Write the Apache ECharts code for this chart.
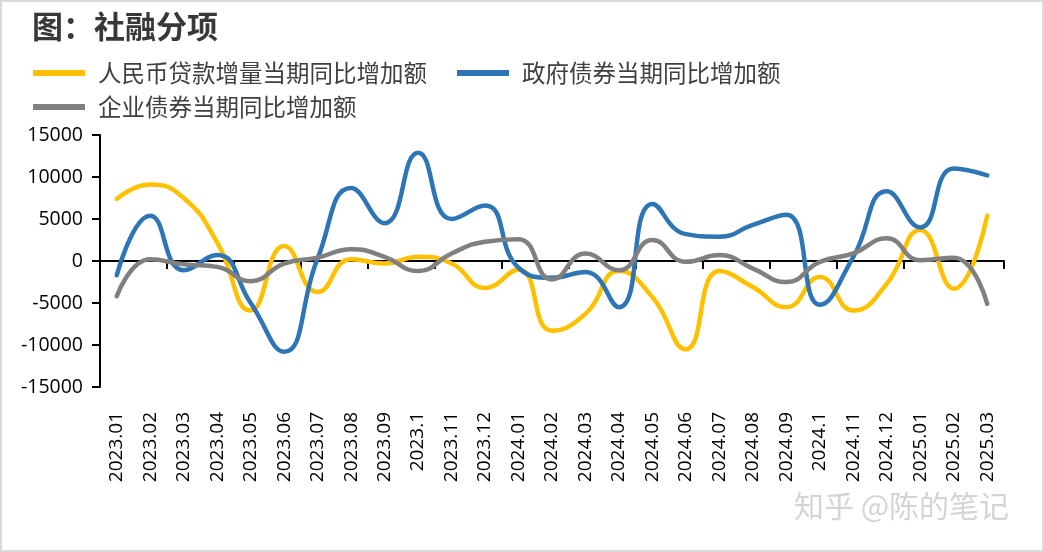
<!DOCTYPE html>
<html>
<head>
<meta charset="utf-8">
<script src="https://cdn.jsdelivr.net/npm/echarts@6/dist/echarts.min.js"></script>
<style>
  html, body { margin: 0; padding: 0; background: #fff; }
  #chart { position: absolute; left: 0; top: 0; width: 1044px; height: 552px; }
  #frame { position: absolute; left: 0; top: 0; width: 1044px; height: 552px;
           box-sizing: border-box; border: 2px solid #d9d9d9; pointer-events: none; }
</style>
</head>
<body>
<div id="chart"></div>
<div id="frame"></div>
<script>
// 月份
const months = ['2023.01','2023.02','2023.03','2023.04','2023.05','2023.06','2023.07','2023.08','2023.09','2023.1',
  '2023.11','2023.12','2024.01','2024.02','2024.03','2024.04','2024.05','2024.06','2024.07','2024.08','2024.09',
  '2024.1','2024.11','2024.12','2025.01','2025.02','2025.03'];
// 人民币贷款增量当期同比增加额
const loans = [7400, 9100, 7500, 2200, -5900, 1800, -3700, 200, -300, 500, -300, -3200, -1000, -8300,
  -6300, -1200, -4300, -10500, -1200, -3100, -5500, -1900, -5900, -2700, 3700, -3300, 5400];
// 政府债券当期同比增加额
const govBonds = [-1700, 5400, -1100, 700, -5000, -10800, 300, 8700, 4500, 12900, 5000, 6600, -800, -2000,
  -1300, -5500, 6800, 3200, 2900, 4300, 5500, -5200, 500, 8300, 4000, 11000, 10200];
// 企业债券当期同比增加额
const corpBonds = [-4200, 200, -400, -700, -2400, -300, 400, 1400, 500, -1200, 900, 2300, 2600, -2200,
  900, -1100, 2500, -100, 700, -900, -2500, -100, 900, 2700, 100, 400, -5100];

const names = ['人民币贷款增量当期同比增加额', '政府债券当期同比增加额', '企业债券当期同比增加额'];
const colors = ['#FFC000', '#2E75B6', '#808080'];

const numFont = '"Open Sans", "Liberation Sans", sans-serif';
const cjkFont = '"Noto Sans CJK SC", sans-serif';

let chart = echarts.init(document.getElementById('chart'));

function legendAt(name, left, top) {
  return {
    data: [{ name: name, icon: 'rect' }],
    left: left, top: top,
    itemWidth: 52, itemHeight: 6,
    textStyle: { fontFamily: cjkFont, fontSize: 23.5, color: '#404040', padding: [0, 0, 0, 8], lineHeight: 28 }
  };
}

let option = {
  backgroundColor: '#fff',
  animation: false,
  title: {
    text: '图：社融分项',
    left: 27, top: 6,
    textStyle: { fontFamily: cjkFont, fontSize: 31, fontWeight: 'bold', color: '#383838' }
  },
  legend: [
    legendAt(names[0], 28, 54),
    legendAt(names[1], 452, 54),
    legendAt(names[2], 28, 88)
  ],
  grid: { left: 100, right: 40, top: 135, bottom: 165 },
  xAxis: [
    {
      type: 'category',
      data: months,
      axisLine: { onZero: true, lineStyle: { color: '#000', width: 2 } },
      axisTick: { show: true, length: 8, lineStyle: { color: '#000', width: 2 } },
      axisLabel: { show: false }
    },
    {
      type: 'category',
      data: months,
      position: 'bottom',
      axisLine: { show: false, onZero: false },
      axisTick: { show: false },
      axisLabel: { rotate: 90, margin: 25, interval: 0, fontFamily: numFont, fontSize: 19, color: '#000' }
    }
  ],
  yAxis: {
    type: 'value',
    min: -15000, max: 15000, interval: 5000,
    splitLine: { show: false },
    axisLine: { show: true, lineStyle: { color: '#000', width: 2 } },
    axisTick: { show: true, length: 8, lineStyle: { color: '#000', width: 2 } },
    axisLabel: { margin: 17, fontFamily: numFont, fontSize: 19.5, color: '#000', formatter: v => String(v) }
  },
  series: [
    { name: names[0], type: 'line', data: loans },
    { name: names[1], type: 'line', data: govBonds },
    { name: names[2], type: 'line', data: corpBonds }
  ].map((s, i) => Object.assign(s, {
    smooth: 0.5,
    showSymbol: false,
    symbol: 'none',
    color: colors[i],
    lineStyle: { width: 4.5, color: colors[i], cap: 'round', join: 'round' }
  })),
  graphic: [{
    type: 'text',
    left: 794, top: 491,
    style: {
      text: '知乎 @陈的笔记',
      fontFamily: cjkFont, fontSize: 30,
      fill: '#d4d4d4',
      shadowColor: 'rgba(0,0,0,0.35)', shadowBlur: 2, shadowOffsetX: 1, shadowOffsetY: 1
    }
  }]
};

option && chart.setOption(option);
</script>
</body>
</html>
